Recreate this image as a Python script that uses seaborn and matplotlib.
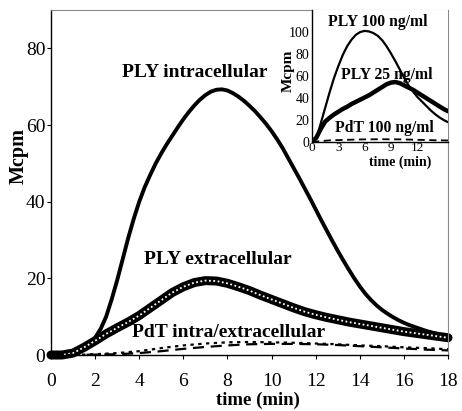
import numpy as np
import pandas as pd
import matplotlib
matplotlib.use("Agg")
import matplotlib.pyplot as plt
import seaborn as sns

# ---------------- data ----------------
t_intra = [0, 0.25, 0.5, 0.75, 1, 1.25, 1.5, 1.75, 2, 2.25, 2.5, 2.75, 3, 3.25, 3.5,
           3.75, 4, 4.25, 4.5, 4.75, 5, 5.25, 5.5, 5.75, 6, 6.25, 6.5, 6.75, 7, 7.25,
           7.5, 7.75, 8, 8.25, 8.5, 8.75, 9, 9.25, 9.5, 9.75, 10, 10.25, 10.5, 10.75,
           11, 11.25, 11.5, 11.75, 12, 12.25, 12.5, 12.75, 13, 13.25, 13.5, 13.75, 14,
           14.25, 14.5, 14.75, 15, 15.25, 15.5, 15.75, 16, 16.25, 16.5, 16.75, 17,
           17.25, 17.5, 17.75, 18]
ply_intra = [0, 0, 0, 0.1, 0.4, 1.0, 1.9, 3.0, 4.5, 6.8, 10, 14.5, 19.5, 25, 30.5,
             35.5, 40, 43.8, 47, 50, 52.6, 55, 57.2, 59.4, 61.5, 63.4, 65.1, 66.6, 67.8,
             68.7, 69.2, 69.3, 69, 68.3, 67.4, 66.3, 65, 63.6, 62, 60.3, 58.4, 56.3, 54,
             51.4, 48.8, 46.2, 43.5, 40.8, 38, 35.2, 32.5, 29.8, 27.2, 24.7, 22.3, 20,
             17.9, 16, 14.4, 13, 11.8, 10.8, 9.9, 9.1, 8.4, 7.8, 7.3, 6.8, 6.3, 5.9, 5.5,
             5.1, 4.8]

t_extra = [0, 0.5, 1, 1.5, 2, 2.5, 3, 3.5, 4, 4.5, 5, 5.5, 6, 6.5, 7, 7.5, 8, 8.5, 9,
           9.5, 10, 10.5, 11, 11.5, 12, 12.5, 13, 13.5, 14, 14.5, 15, 15.5, 16, 16.5,
           17, 17.5, 18]
ply_extra = [0, 0, 0.5, 2.0, 3.7, 5.5, 7.1, 8.6, 10.3, 12.3, 14.3, 16.3, 17.8, 18.9,
             19.4, 19.3, 18.7, 17.8, 16.8, 15.6, 14.5, 13.4, 12.3, 11.3, 10.5, 9.8, 9.2,
             8.6, 8.1, 7.6, 7.1, 6.6, 6.1, 5.7, 5.3, 4.9, 4.5]

t_pdt = [0, 1, 2, 3, 4, 5, 6, 7, 8, 9, 10, 11, 12, 13, 14, 15, 16, 17, 18]
pdt_intra = [0, 0, 0.2, 0.5, 1.0, 1.8, 2.5, 3.0, 3.3, 3.4, 3.3, 3.2, 3.0, 2.8, 2.5,
             2.3, 2.0, 1.8, 1.5]
pdt_extra = [0, 0, 0.1, 0.2, 0.5, 1.0, 1.6, 2.1, 2.5, 2.8, 2.9, 2.9, 2.8, 2.6, 2.3,
             2.0, 1.7, 1.4, 1.2]

t_inset = [0, 0.5, 1, 1.5, 2, 2.5, 3, 3.5, 4, 4.5, 5, 5.5, 6, 6.5, 7, 7.5, 8, 8.5, 9,
           9.5, 10, 10.5, 11, 11.5, 12, 12.5, 13, 13.5, 14, 14.5, 15, 15.5]
ply100 = [0, 3, 17, 31, 45, 58, 69, 79, 87, 93, 97.5, 100, 101, 100.5, 99, 96.5, 92.5,
          87, 80.5, 73.5, 66, 58.5, 51.5, 46, 41, 37, 33, 29, 25.5, 22.5, 20, 18]
ply25 = [0, 4, 12, 18.5, 22, 25, 27.5, 30, 32, 34.5, 36.5, 38.5, 40.5, 42.5, 45, 47.5,
         50, 52.5, 54, 54.5, 53.5, 51.5, 49.5, 47.5, 45, 42.5, 40, 37.5, 35, 32.5, 30, 28]
t_pdt100 = [0, 1, 2, 4, 6, 8, 10, 12, 14, 15.5]
pdt100 = [0, 0.8, 1.5, 2.0, 2.4, 2.5, 2.4, 2.0, 1.6, 1.4]

main_xticks = [0, 2, 4, 6, 8, 10, 12, 14, 16, 18]
main_yticks = [0, 20, 40, 60, 80]
inset_xticks = [0, 3, 6, 9, 12]
inset_yticks = [0, 20, 40, 60, 80, 100]

# ---------------- style ----------------
sns.set_style("ticks")
plt.rcParams["font.family"] = ["Liberation Serif", "DejaVu Serif"]
plt.rcParams["axes.linewidth"] = 1.0
plt.rcParams["text.color"] = "black"
plt.rcParams["axes.labelcolor"] = "black"
plt.rcParams["xtick.color"] = "black"
plt.rcParams["ytick.color"] = "black"

W, H = 462, 411
fig = plt.figure(figsize=(W / 100, H / 100), dpi=100)

def fx(px):
    return px / W

def fy(py):
    return 1 - py / H

ax = fig.add_axes([fx(51), fy(355), fx(448) - fx(51), fy(10) - fy(355)])
ax.set_xlim(0, 18)
ax.set_ylim(0, 90)

# PLY intracellular (solid, thick)
sns.lineplot(x=t_intra, y=ply_intra, ax=ax, color="black", lw=2.8, sort=False,
             solid_capstyle="round")
# PLY extracellular (dense open circles -> dark band with white dotted core)
sns.lineplot(x=t_extra, y=ply_extra, ax=ax, color="black", lw=6.5, sort=False,
             solid_capstyle="round", clip_on=False)
sns.lineplot(x=t_extra, y=ply_extra, ax=ax, color="white", lw=1.3, sort=False,
             linestyle=(0, (1.0, 1.4)), clip_on=False)
# PdT intra (dotted) / extra (dashed)
sns.lineplot(x=t_pdt, y=pdt_intra, ax=ax, color="black", lw=1.6, sort=False,
             linestyle=(0, (1.5, 2.0)))
sns.lineplot(x=t_pdt, y=pdt_extra, ax=ax, color="black", lw=1.6, sort=False,
             linestyle=(0, (5, 3)))

ax.set_xticks(main_xticks)
ax.set_yticks(main_yticks)
ax.tick_params(axis="x", labelsize=14, length=3, width=0.8, pad=10, direction="out",
               colors="black")
ax.tick_params(axis="y", labelsize=14, length=3, width=0.8, pad=1, direction="out",
               colors="black")
ax.set_xlabel("")
ax.set_ylabel("")
for s in ("left", "bottom"):
    ax.spines[s].set_color("black")
for s in ("top", "right"):
    ax.spines[s].set_visible(True)
    ax.spines[s].set_color("#8a8a8a")
    ax.spines[s].set_linewidth(0.8)

ax.text(6.5, 73.7, "PLY intracellular", ha="center", va="center",
        fontsize=14, fontweight="bold", color="black")
ax.text(7.58, 24.8, "PLY extracellular", ha="center", va="center",
        fontsize=14, fontweight="bold", color="black")
ax.text(8.05, 6.0, "PdT intra/extracellular", ha="center", va="center",
        fontsize=14, fontweight="bold", color="black")

fig.text(fx(258), fy(400), "time (min)", ha="center", va="center",
         fontsize=13.5, fontweight="bold", color="black")
fig.text(fx(19), fy(156), "Mcpm", ha="center", va="center", rotation=90,
         fontsize=14.5, fontweight="bold", color="black")

# ---------------- inset ----------------
axin = fig.add_axes([fx(312), fy(142), fx(448) - fx(312), fy(10) - fy(142)])
axin.set_xlim(0, 15.5)
axin.set_ylim(0, 120)
sns.lineplot(x=t_inset, y=ply100, ax=axin, color="black", lw=1.6, sort=False)
sns.lineplot(x=t_inset, y=ply25, ax=axin, color="black", lw=3.2, sort=False)
sns.lineplot(x=t_pdt100, y=pdt100, ax=axin, color="black", lw=1.3, sort=False,
             linestyle=(0, (4, 2.5)))
axin.set_xticks(inset_xticks)
axin.set_yticks(inset_yticks)
axin.tick_params(axis="x", labelsize=9.5, length=0, pad=0, colors="black")
axin.tick_params(axis="y", labelsize=10, length=0, pad=2, colors="black")
axin.set_xlabel("")
axin.set_ylabel("")
axin.spines["top"].set_visible(False)
axin.spines["right"].set_visible(False)
axin.spines["left"].set_color("black")
axin.spines["bottom"].set_color("black")

axin.text(7.5, 109, "PLY 100 ng/ml", ha="center", va="center",
          fontsize=11.3, fontweight="bold", color="black")
axin.text(8.55, 61, "PLY 25 ng/ml", ha="center", va="center",
          fontsize=11.3, fontweight="bold", color="black")
axin.text(8.3, 12.7, "PdT 100 ng/ml", ha="center", va="center",
          fontsize=11.3, fontweight="bold", color="black")
fig.text(fx(400), fy(162), "time (min)", ha="center", va="center",
         fontsize=10, fontweight="bold", color="black")
fig.text(fx(288), fy(71), "Mcpm", ha="center", va="center", rotation=90,
         fontsize=11, fontweight="bold", color="black")

fig.savefig("out.png", dpi=100)
